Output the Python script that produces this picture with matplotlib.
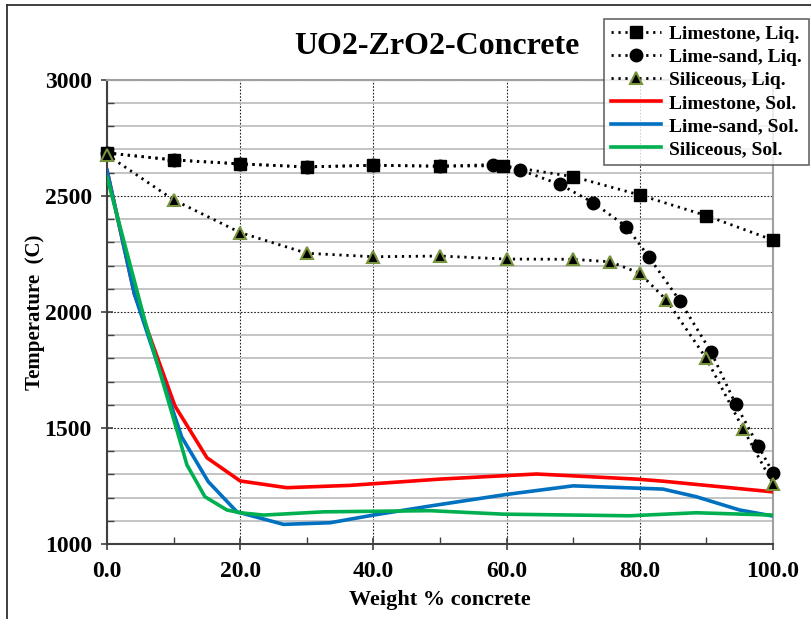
import matplotlib
matplotlib.use("Agg")
import matplotlib.pyplot as plt
from matplotlib.lines import Line2D
from matplotlib.ticker import MultipleLocator, FormatStrFormatter

# Liquidus data (markers)
ls_liq_x = [0, 10, 20, 30, 40, 50, 59.5, 70, 80, 90, 100]
ls_liq_y = [2685, 2655, 2638, 2625, 2632, 2628, 2630, 2583, 2504, 2415, 2310]

lsand_liq_x = [0, 10, 20, 30, 40, 50, 58, 62, 68, 73, 78, 81.4, 86, 90.7, 94.4, 97.8, 100]
lsand_liq_y = [2685, 2655, 2638, 2625, 2632, 2628, 2635, 2612, 2550, 2471, 2368, 2236, 2049,
               1829, 1603, 1424, 1307]

sil_liq_x = [0, 10, 20, 30, 40, 50, 60, 70, 75.6, 80, 84, 90, 95.5, 100]
sil_liq_y = [2677, 2483, 2342, 2253, 2238, 2241, 2228, 2227, 2216, 2167, 2052, 1800, 1498, 1261]

# Solidus data (lines)
ls_sol_x = [0, 4.1, 10.2, 15, 20, 27, 36.5, 50, 64.5, 79.5, 83.5, 100]
ls_sol_y = [2610, 2078, 1595, 1372, 1272, 1243, 1253, 1280, 1302, 1280, 1271, 1225]

lsand_sol_x = [0, 4.1, 11.2, 15.2, 19.5, 26.5, 33.5, 40, 48.5, 60, 70, 83.5, 88.5, 95, 100]
lsand_sol_y = [2610, 2078, 1462, 1269, 1139, 1085, 1092, 1125, 1164, 1214, 1251, 1237, 1204, 1147, 1121]

sil_sol_x = [0, 5.7, 10.5, 12, 14.7, 18, 20, 23.5, 32.5, 48.5, 59.5, 78.5, 88.5, 100]
sil_sol_y = [2580, 1960, 1490, 1341, 1204, 1147, 1135, 1125, 1139, 1144, 1129, 1122, 1135, 1125]

labels = ["Limestone, Liq.", "Lime-sand, Liq.", "Siliceous, Liq.",
          "Limestone, Sol.", "Lime-sand, Sol.", "Siliceous, Sol."]

plt.rcParams['font.family'] = ['Liberation Serif', 'DejaVu Serif']
plt.rcParams['font.weight'] = 'bold'

fig = plt.figure(figsize=(8.11, 6.19), dpi=100)
ax = fig.add_axes([0.132, 0.121, 0.821, 0.750])

RED, BLUE, GREEN = "#FF0000", "#0070C0", "#00B050"
dot = (0, (0.8, 1.7))

ax.plot(ls_liq_x, ls_liq_y, color="black", lw=2.0, ls=dot, marker="s",
        ms=9, mfc="black", mec="black", label=labels[0], zorder=6, clip_on=False)
ax.plot(lsand_liq_x, lsand_liq_y, color="black", lw=2.0, ls=dot, marker="o",
        ms=9, mfc="black", mec="black", label=labels[1], zorder=5, clip_on=False)
ax.plot(sil_liq_x, sil_liq_y, color="black", lw=2.0, ls=dot, marker="^",
        ms=9, mfc="black", mec="#77933C", mew=1.5, label=labels[2], zorder=7,
        clip_on=False)
ax.plot(ls_sol_x, ls_sol_y, color=RED, lw=2.6, label=labels[3], zorder=4)
ax.plot(lsand_sol_x, lsand_sol_y, color=BLUE, lw=2.6, label=labels[4], zorder=4)
ax.plot(sil_sol_x, sil_sol_y, color=GREEN, lw=2.6, label=labels[5], zorder=4)

ax.set_xlim(0, 100)
ax.set_ylim(1000, 3000)
ax.xaxis.set_major_locator(MultipleLocator(20))
ax.xaxis.set_minor_locator(MultipleLocator(10))
ax.yaxis.set_major_locator(MultipleLocator(500))
ax.yaxis.set_minor_locator(MultipleLocator(100))
ax.xaxis.set_major_formatter(FormatStrFormatter("%.1f"))

ax.grid(which="minor", axis="y", color="#BFBFBF", lw=1.3, ls="-")
ax.grid(which="major", axis="y", color="#222222", lw=0.8, ls=(0, (1.5, 1.5)))
ax.grid(which="major", axis="x", color="#222222", lw=0.8, ls=(0, (1.5, 1.5)))
ax.set_axisbelow(True)

for side in ("left", "bottom"):
    ax.spines[side].set_color("#404040")
    ax.spines[side].set_linewidth(1.5)
for side in ("right", "top"):
    ax.spines[side].set_color("#A0A0A0")
    ax.spines[side].set_linewidth(1.5)

ax.tick_params(which="major", direction="inout", length=8, width=1.2,
               color="#404040", labelsize=17)
ax.tick_params(axis="x", which="major", pad=8)
ax.tick_params(axis="y", which="major", pad=7)
ax.tick_params(which="minor", direction="in", length=5, width=1.0,
               color="#404040")
for t in ax.get_xticklabels() + ax.get_yticklabels():
    t.set_fontweight("bold")

ax.set_xlabel("Weight % concrete", fontsize=16, fontweight="bold", labelpad=6)
ax.set_ylabel("Temperature  (C)", fontsize=15, fontweight="bold")
ax.yaxis.set_label_coords(-0.093, 0.5)
fig.text(0.539, 0.925, "UO2-ZrO2-Concrete", ha="center", va="center",
         fontsize=23, fontweight="bold")

leg = fig.legend(loc="upper right", bbox_to_anchor=(0.997, 0.970),
                 fontsize=14, frameon=True, fancybox=False,
                 edgecolor="#404040", handlelength=2.6, handletextpad=0.4,
                 borderpad=0.35, labelspacing=0.28, borderaxespad=0)
leg.get_frame().set_linewidth(1.2)
for t in leg.get_texts():
    t.set_fontweight("bold")

# outer chart frame
fig.add_artist(Line2D([7 / 811, 7 / 811], [0, 1 - 5 / 619], transform=fig.transFigure,
                      color="#303030", lw=1.3))
fig.add_artist(Line2D([7 / 811, 1], [1 - 5 / 619, 1 - 5 / 619], transform=fig.transFigure,
                      color="#303030", lw=1.3))

fig.savefig("out.png", dpi=100, facecolor="white")
